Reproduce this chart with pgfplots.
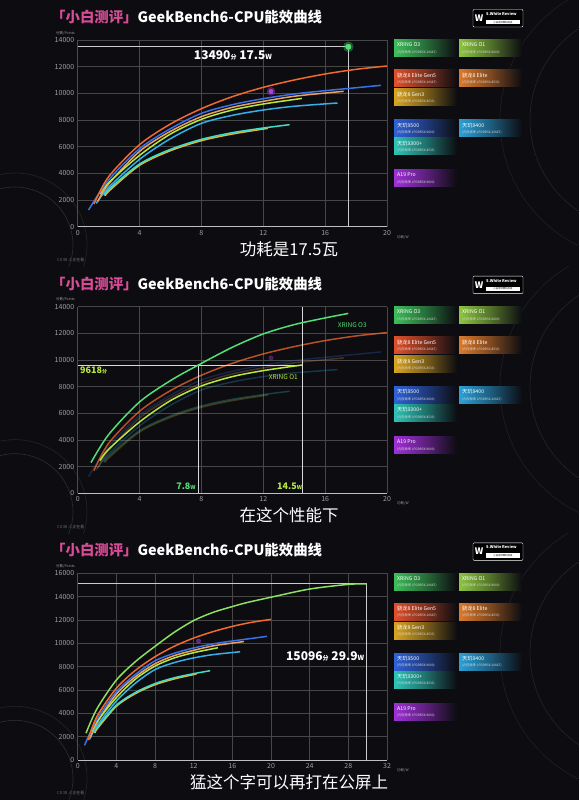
\documentclass[border=0pt]{standalone}
\usepackage{fontspec}
\usepackage{pgfplots}
\usepackage{pgfplotstable}
\pgfplotsset{compat=1.18}
\setmainfont{Noto Sans CJK SC}
\definecolor{bg}{HTML}{0C0C11}
\definecolor{tickgray}{HTML}{A0A0A0}
\definecolor{pinkt}{HTML}{D94C97}
% legend colours
\definecolor{lO3}{HTML}{3DBE5A}
\definecolor{lO1}{HTML}{8CC63F}
\definecolor{lG5}{HTML}{E0502A}
\definecolor{lEl}{HTML}{DC7A2A}
\definecolor{lG3}{HTML}{D9A520}
\definecolor{l95}{HTML}{2F62D8}
\definecolor{l94}{HTML}{2AA0D8}
\definecolor{l93}{HTML}{2EC4B6}
\definecolor{lA19}{HTML}{A030D8}
% curve colours
\definecolor{cO3}{HTML}{55DD77}
\definecolor{cO3b}{HTML}{8EE060}
\definecolor{cO1}{HTML}{B8E840}
\definecolor{cG5}{HTML}{F26A2E}
\definecolor{cEl}{HTML}{E8A060}
\definecolor{cG3}{HTML}{E6B830}
\definecolor{c95}{HTML}{3A70E8}
\definecolor{c94}{HTML}{35B0E8}
\definecolor{c93}{HTML}{40DCC8}
\definecolor{cA19}{HTML}{B040E0}

\pgfplotstableread{
x y
0.86 2300
2 4400
4 6850
6 8450
7.8 9618
10 10950
12 11950
14 12650
16 13150
17.5 13490
20 13950
24 14650
28 15050
29.9 15096
}\tOthree
\pgfplotstableread{
x y
1.45 2450
2 3300
4 5350
6 6950
8 8050
10 8750
12 9200
14.5 9618
}\tOone
\pgfplotstableread{
x y
1.05 1700
2 3750
4 6150
6 7700
8 8850
10 9750
12 10450
14 11000
16 11450
18 11800
20 12050
}\tGfive
\pgfplotstableread{
x y
1.3 1900
2 3200
4 5650
6 7150
8 8250
10 8950
12 9400
14 9780
16 10020
17.2 10150
}\tElite
\pgfplotstableread{
x y
1.8 2300
2 2650
4 4600
6 5700
8 6450
10 6950
12.3 7375
}\tGthree
\pgfplotstableread{
x y
0.7 1250
2 3500
4 5850
6 7350
8 8500
10 9150
12 9600
14 9950
16 10200
18 10420
19.6 10600
}\tNinefive
\pgfplotstableread{
x y
1.2 1750
2 2950
4 5050
6 6600
8 7750
10 8350
12 8750
14 9030
16.8 9275
}\tNinefour
\pgfplotstableread{
x y
1.7 2350
2 2800
4 4700
6 5800
8 6550
10 7050
12 7400
13.7 7650
}\tNinethree

\pgfplotsset{
 panel/.style={
  scale only axis, width=309.3pt, height=186.7pt, anchor=south west,
  xmin=0, ymin=0,
  axis lines=left, axis line style={-},
  x axis line style={draw=white!75!black, line width=0.8pt},
  y axis line style={draw=white!30!black, line width=0.5pt},
  grid=major, grid style={draw=white!28!black, line width=0.5pt},
  major tick length=0pt,
  tick label style={font=\fontsize{7}{8}\selectfont, text=tickgray},
  /pgf/number format/assume math mode=true,
  /pgf/number format/1000 sep={},
  scaled y ticks=false,
  clip=false,
 },
 crv/.style={smooth, line width=1.5pt, draw=#1},
}

\newcommand\legbox[5]{%
 \shade[left color=#3, right color=bg, middle color=#3!55!bg] (#1,#2) rectangle ++(63,17);
 \node[anchor=north west, inner sep=0, text=white, font=\fontsize{5.2}{5.2}\selectfont] at (#1+3,#2+2.8) {#4};
 \node[anchor=north west, inner sep=0, text=white!85!black, font=\fontsize{3.2}{3.2}\selectfont] at (#1+3,#2+10.5) {(内存频率 #5)};
}

\newcommand\chrome[2]{%
 \begin{scope}[yshift=-#1pt]
  \begin{scope}
   \clip (0,0) rectangle (579,266.6);
   \draw[white!14!bg, line width=0.6pt] (15,245) circle (58);
   \draw[white!10!bg, line width=0.6pt] (15,245) circle (72);
   \draw[white!10!bg, line width=0.6pt] (640,120) circle (110);
   \draw[white!8!bg, line width=0.6pt] (640,120) circle (140);
  \end{scope}
  \node[anchor=west, inner sep=0, text=white, font=\bfseries\fontsize{14.4}{14.4}\selectfont] at (51,17) {\textcolor{pinkt}{「小白测评」}GeekBench6-CPU能效曲线};
  \node[inner sep=0, text=white, font=\fontsize{16.5}{16.5}\selectfont] at (289,249) {#2};
  \node[anchor=east, inner sep=0, text=tickgray, font=\fontsize{3.5}{3.5}\selectfont] at (75,33) {分数/Points};
  \node[anchor=west, inner sep=0, text=tickgray, font=\fontsize{3.5}{3.5}\selectfont] at (397,237) {功耗/W};
  \node[anchor=west, inner sep=0, text=white!45!black, font=\fontsize{4}{4}\selectfont] at (57,260) {CII 38 人正在看};
  % logo
  \draw[white, line width=0.4pt, fill=black, rounded corners=1pt] (473,9.5) rectangle (523,27);
  \node[inner sep=0, text=white, font=\bfseries\fontsize{9}{9}\selectfont] at (479.2,18.3) {W};
  \node[anchor=west, inner sep=0, text=white, font=\bfseries\fontsize{3.9}{3.9}\selectfont] at (486,13.8) {S.White Review};
  \fill[white] (486,20) rectangle (520,24.5);
  \node[inner sep=0, text=black, font=\fontsize{2.4}{2.4}\selectfont] at (503,22.4) {小白测评数码科技};
  % legend
  \legbox{394}{40}{lO3}{XRING O3}{LPDDR5X-10667}
  \legbox{459}{40}{lO1}{XRING O1}{LPDDR5X-9600}
  \legbox{394}{70}{lG5}{骁龙8 Elite Gen5}{LPDDR5X-10667}
  \legbox{459}{70}{lEl}{骁龙8 Elite}{LPDDR5X-8533}
  \legbox{394}{89}{lG3}{骁龙8 Gen3}{LPDDR5X-8533}
  \legbox{394}{120}{l95}{天玑9500}{LPDDR5X-9600}
  \legbox{459}{120}{l94}{天玑9400}{LPDDR5X-10667}
  \legbox{394}{138}{l93}{天玑9300+}{LPDDR5X-8533}
  \legbox{394}{170}{lA19}{A19 Pro}{LPDDR5X-9600}
 \end{scope}
}

\begin{document}
\begin{tikzpicture}
\fill[bg] (0,0) rectangle (579pt,800pt);
\path[use as bounding box] (0,0) rectangle (579pt,800pt);
\begin{scope}[x=1pt,y=-1pt,yshift=800pt]
 \chrome{0}{功耗是17.5瓦}
 \chrome{266.67}{在这个性能下}
 \chrome{533.33}{猛这个字可以再打在公屏上}
\end{scope}

% ---------------- panel 1 ----------------
\begin{axis}[panel, at={(77.7pt,573.3pt)}, xmax=20, ymax=14000,
  xtick={0,4,...,20}, ytick={0,2000,...,14000}]
 \addplot[only marks, mark=*, mark size=4pt, color=cA19, opacity=0.35] coordinates {(12.5,10150)};
 \addplot[only marks, mark=*, mark size=2.2pt, color=cA19] coordinates {(12.5,10150)};
 \addplot[white!80!black, line width=0.8pt] coordinates {(0,13490) (17.5,13490) (17.5,0)};
 \addplot[crv=cG3] table {\tGthree};
 \addplot[crv=c93] table {\tNinethree};
 \addplot[crv=c94] table {\tNinefour};
 \addplot[crv=cEl] table {\tElite};
 \addplot[crv=cO1] table {\tOone};
 \addplot[crv=c95] table {\tNinefive};
 \addplot[crv=cG5] table {\tGfive};
 \addplot[only marks, mark=*, mark size=5pt, color=cO3, opacity=0.3] coordinates {(17.5,13490)};
 \addplot[only marks, mark=*, mark size=2.8pt, color=cO3] coordinates {(17.5,13490)};
 \node[text=white, inner sep=0, font=\bfseries\fontsize{12}{12}\selectfont] at (axis cs:10.04,12877)
   {13490{\fontsize{6}{6}\selectfont 分} 17.5{\fontsize{7}{7}\selectfont W}};
\end{axis}

% ---------------- panel 2 ----------------
\begin{axis}[panel, at={(77.7pt,306.7pt)}, xmax=20, ymax=14000,
  xtick={0,4,...,20}, ytick={0,2000,...,14000}]
 \addplot[only marks, mark=*, mark size=2.2pt, color=cA19, opacity=0.35] coordinates {(12.5,10150)};
 \addplot[crv=cG3, opacity=0.25] table {\tGthree};
 \addplot[crv=c93, opacity=0.25] table {\tNinethree};
 \addplot[crv=c94, opacity=0.25] table {\tNinefour};
 \addplot[crv=cEl, opacity=0.25] table {\tElite};
 \addplot[crv=c95, opacity=0.25] table {\tNinefive};
 \addplot[crv=cG5, opacity=0.75] table {\tGfive};
 \addplot[white!85!black, line width=0.8pt] coordinates {(0,9618) (14.5,9618)};
 \addplot[white!85!black, line width=0.8pt] coordinates {(7.8,0) (7.8,9618)};
 \addplot[white!85!black, line width=0.8pt] coordinates {(14.5,0) (14.5,14000)};
 \addplot[crv=cO1] table {\tOone};
 \addplot[crv=cO3, restrict x to domain=0:17.6] table {\tOthree};
 \node[anchor=west, inner sep=0, text=cO1, font=\bfseries\fontsize{9}{9}\selectfont] at (axis cs:0.15,9200)
   {9618{\fontsize{5}{5}\selectfont 分}};
 \node[inner sep=0, text=cO3, font=\bfseries\fontsize{9}{9}\selectfont] at (axis cs:7.0,500)
   {7.8{\fontsize{5.5}{5.5}\selectfont W}};
 \node[inner sep=0, text=cO1, font=\bfseries\fontsize{9}{9}\selectfont] at (axis cs:13.7,500)
   {14.5{\fontsize{5.5}{5.5}\selectfont W}};
 \node[inner sep=0, text=cO3, font=\fontsize{6.5}{6.5}\selectfont] at (axis cs:17.75,12625) {XRING O3};
 \node[inner sep=0, text=cO1, font=\fontsize{6.5}{6.5}\selectfont] at (axis cs:13.3,8725) {XRING O1};
\end{axis}

% ---------------- panel 3 ----------------
\begin{axis}[panel, at={(77.7pt,40pt)}, xmax=32, ymax=16000,
  xtick={0,4,...,32}, ytick={0,2000,...,16000}]
 \addplot[only marks, mark=*, mark size=2.2pt, color=cA19, opacity=0.5] coordinates {(12.5,10200)};
 \addplot[white!80!black, line width=0.8pt] coordinates {(0,15096) (29.9,15096) (29.9,0)};
 \addplot[crv=cG3] table {\tGthree};
 \addplot[crv=c93] table {\tNinethree};
 \addplot[crv=c94] table {\tNinefour};
 \addplot[crv=cEl] table {\tElite};
 \addplot[crv=cO1] table {\tOone};
 \addplot[crv=c95] table {\tNinefive};
 \addplot[crv=cG5] table {\tGfive};
 \addplot[crv=cO3b] table {\tOthree};
 \node[text=white, inner sep=0, font=\bfseries\fontsize{12}{12}\selectfont] at (axis cs:25.6,8913)
   {15096{\fontsize{6}{6}\selectfont 分} 29.9{\fontsize{7}{7}\selectfont W}};
\end{axis}
\end{tikzpicture}
\end{document}
